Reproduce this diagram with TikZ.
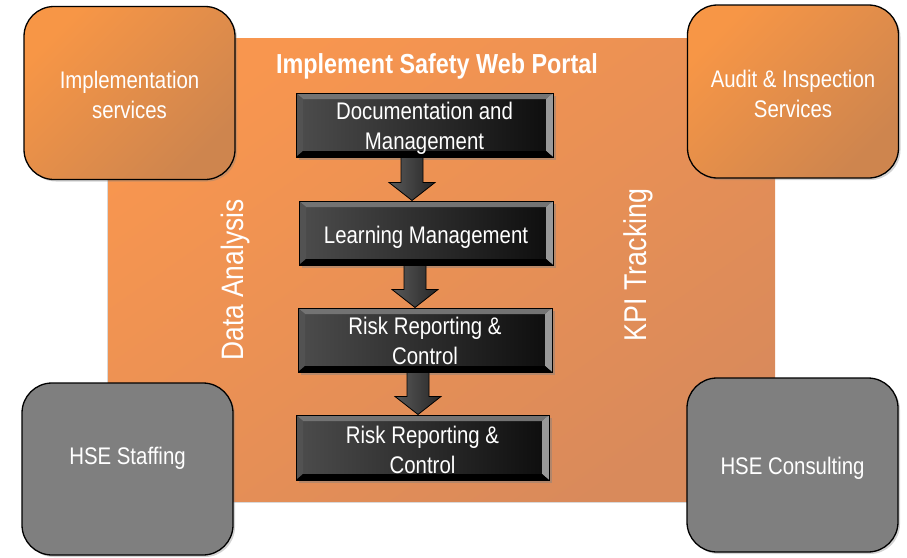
\documentclass[tikz,border=0pt]{standalone}
\usepackage{fontspec}
\usetikzlibrary{calc,shadows}
\newfontfamily\narrowsans[FakeStretch=0.85]{Liberation Sans}
\newcommand\lwr[2][10]{\raisebox{-#1pt}[0pt][0pt]{\begin{tabular}{@{}c@{}}#2\end{tabular}}}
\definecolor{orA}{HTML}{F79646}
\definecolor{orC}{HTML}{C9834F}
\definecolor{mainA}{HTML}{F8964F}
\definecolor{mainB}{HTML}{D98A5B}
\definecolor{greyBox}{HTML}{7F7F7F}
\tikzset{
  basefont/.style={font=\narrowsans\fontsize{24}{30}\selectfont},
  cornerbox/.style={rectangle, rounded corners=30pt, draw=black, line width=1.3pt,
    minimum width=211pt, minimum height=173pt, text=white, align=center, basefont,
    drop shadow={shadow xshift=2pt, shadow yshift=-2pt, opacity=0.35}},
  orangebox/.style={cornerbox, top color=orA, middle color=orA!96!orC, bottom color=orC!90!orA, shading angle=45},
  greybox/.style={cornerbox, fill=greyBox},
  darkbox/.style={rectangle, draw=black, line width=1pt, text=white, align=center, basefont,
    minimum height=64pt,
    drop shadow={shadow xshift=3pt, shadow yshift=-3pt, opacity=0.45},
    path picture={
      \fill[left color=black!70, right color=black!95]
        (path picture bounding box.south west) rectangle (path picture bounding box.north east);
      \fill[black!55] (path picture bounding box.north west) -- (path picture bounding box.north east)
        -- ([shift={(-7pt,-6pt)}]path picture bounding box.north east)
        -- ([shift={(7pt,-6pt)}]path picture bounding box.north west) -- cycle;
      \fill[black!68] (path picture bounding box.north west) -- ([shift={(7pt,-6pt)}]path picture bounding box.north west)
        -- ([shift={(7pt,6pt)}]path picture bounding box.south west) -- (path picture bounding box.south west) -- cycle;
      \fill[black!40] (path picture bounding box.north east) -- ([shift={(-7pt,-6pt)}]path picture bounding box.north east)
        -- ([shift={(-7pt,6pt)}]path picture bounding box.south east) -- (path picture bounding box.south east) -- cycle;
      \fill[black] (path picture bounding box.south west) -- ([shift={(7pt,6pt)}]path picture bounding box.south west)
        -- ([shift={(-7pt,6pt)}]path picture bounding box.south east) -- (path picture bounding box.south east) -- cycle;
    }},
  blockarrow/.style={draw=black, line width=0.8pt, left color=black!65, right color=black!85},
  sidelabel/.style={text=white, rotate=90},
  titlelabel/.style={text=white, font=\narrowsans\bfseries\fontsize{27.5}{32}\selectfont}
}
\begin{document}
\begin{tikzpicture}[x=1pt, y=-1pt]
\useasboundingbox (0,0) rectangle (907,557);

% main panel
\node[rectangle, minimum width=667pt, minimum height=463pt, top color=mainA, bottom color=mainB,
  shading angle=35, drop shadow={shadow xshift=-1.5pt, shadow yshift=-1.5pt, opacity=0.3}]
  (panel) at (441.5,269.5) {};

% corner boxes
\node[orangebox] (impl) at (129.5,93) {\lwr[10.6]{Implementation\\services}};
\node[orangebox] (audit) at (793,91.5) {\lwr[11.6]{Audit \& Inspection\\Services}};
\node[greybox, minimum height=172pt, label={[text=white, basefont, yshift=11pt]center:HSE Staffing}] (staff) at (127.5,469) {};
\node[greybox, minimum height=174pt] (consult) at (792.5,465) {\lwr[10]{HSE Consulting}};

% title and side labels
\node[titlelabel] (title) at (437,66.5) {Implement Safety Web Portal};
\node[sidelabel, font=\narrowsans\fontsize{31}{36}\selectfont] (data) at (235.5,280) {Data Analysis};
\node[sidelabel, font=\narrowsans\fontsize{31.5}{36}\selectfont] (kpi) at (638,265) {KPI Tracking};

% dark process boxes
\node[darkbox, minimum width=257pt] (d1) at (424.5,125) {\lwr[10]{Documentation and\\Management}};
\node[darkbox, minimum width=254pt] (d2) at (426,233) {\lwr[10.5]{Learning Management}};
\node[darkbox, minimum width=254pt] (d3) at (425,340) {\lwr[10]{Risk Reporting \&\\Control}};
\node[darkbox, minimum width=253pt, minimum height=65pt] (d4) at (422.5,447.5) {\lwr[11]{Risk Reporting \&\\Control}};

% arrow axes
\coordinate (a1) at (412,0);
\coordinate (a2) at (415,0);
\coordinate (a3) at (418,0);

\path[blockarrow] let \p1=(d1.south -| a1), \p2=(d2.north -| a1) in
  (\x1-11pt,\y1) -- (\x1-11pt,\y2+18pt) -- (\x1-23pt,\y2+18pt) -- (\x1,\y2)
  -- (\x1+23pt,\y2+18pt) -- (\x1+11pt,\y2+18pt) -- (\x1+11pt,\y1) -- cycle;
\path[blockarrow] let \p1=(d2.south -| a2), \p2=(d3.north -| a2) in
  (\x1-11pt,\y1) -- (\x1-11pt,\y2+18pt) -- (\x1-23pt,\y2+18pt) -- (\x1,\y2)
  -- (\x1+23pt,\y2+18pt) -- (\x1+11pt,\y2+18pt) -- (\x1+11pt,\y1) -- cycle;
\path[blockarrow] let \p1=(d3.south -| a3), \p2=(d4.north -| a3) in
  (\x1-11pt,\y1) -- (\x1-11pt,\y2+18pt) -- (\x1-23pt,\y2+18pt) -- (\x1,\y2)
  -- (\x1+23pt,\y2+18pt) -- (\x1+11pt,\y2+18pt) -- (\x1+11pt,\y1) -- cycle;
\end{tikzpicture}
\end{document}
